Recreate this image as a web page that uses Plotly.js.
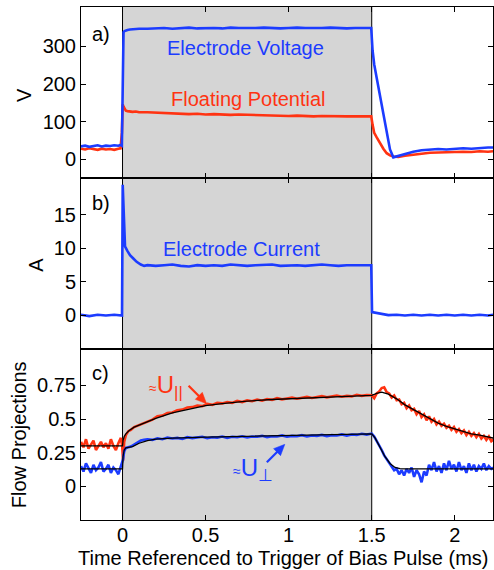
<!DOCTYPE html>
<html>
<head>
<meta charset="utf-8">
<script src="https://cdn.plot.ly/plotly-3.0.1.min.js"></script>
<style>html,body{margin:0;padding:0;background:#fff;}#chart{width:494px;height:570px;}</style>
</head>
<body>
<div id="chart"></div>
<script>
// ---- Panel a: voltages (V) ----
var tA = [-0.25,-0.225,-0.2,-0.175,-0.15,-0.125,-0.1,-0.075,-0.05,-0.025,-0.012,-0.004,
  0.001,0.006,0.012,0.02,0.03,0.045,0.06,0.08,0.1,
  0.15,0.2,0.25,0.3,0.35,0.4,0.45,0.5,0.55,0.6,0.65,0.7,0.75,0.8,0.85,0.9,0.95,1.0,1.05,1.1,1.15,1.2,1.25,1.3,1.35,1.4,1.45,
  1.497,1.505,1.515,1.53,1.55,1.57,1.59,1.61,1.63,1.66,
  1.7,1.75,1.8,1.85,1.9,1.95,2.0,2.05,2.1,2.15,2.2,2.23];
var electrodeVoltage = [34,36,33,35,37,34,36,35,37,36,38,36,
  300,338,341,343,344,345,346,346,347,
  347,348,349,347,348,350,348,349,349,348,350,349,348,349,350,349,348,349,350,349,348,349,350,349,348,349,349,
  349,290,252,216,168,120,72,26,5,9,
  15,20,24,25,27,26,28,29,28,30,31,31];
var floatingPotential = [28,26,29,27,25,28,26,27,25,28,29,70,
  146,140,133,129,128,127,126,127,125,
  125,124,123,122,121,120,121,119,120,119,118,119,118,117,116,117,116,115,116,115,114,115,114,115,114,114,115,
  114,92,70,58,42,28,16,10,7,6,
  9,12,15,17,18,19,18,20,19,21,20,21];

// ---- Panel b: electrode current (A) ----
var tB = [-0.25,-0.2,-0.15,-0.1,-0.05,-0.003,
  0.001,0.005,0.01,0.015,0.03,0.045,0.065,0.085,0.11,0.13,
  0.15,0.2,0.25,0.3,0.35,0.4,0.45,0.5,0.55,0.6,0.65,0.7,0.75,0.8,0.85,0.9,0.95,1.0,1.05,1.1,1.15,1.2,1.25,1.3,1.35,1.4,1.45,
  1.497,1.502,1.53,1.56,1.58,
  1.6,1.65,1.7,1.75,1.8,1.85,1.9,1.95,2.0,2.05,2.1,2.15,2.2,2.23];
var electrodeCurrent = [0.1,-0.1,0.1,0,0.1,0,
  19.5,16,12,10.3,9.6,9.0,8.5,8.0,7.6,7.4,
  7.5,7.4,7.5,7.6,7.4,7.3,7.5,7.4,7.5,7.4,7.6,7.5,7.4,7.5,7.5,7.6,7.4,7.5,7.5,7.4,7.5,7.6,7.5,7.4,7.5,7.5,7.5,
  7.5,0.5,0.35,0.25,0.15,
  0.05,0.1,0,0.1,0,0.1,0,0.1,0,0.1,0,0.1,0,0.1];

// ---- Panel c: flow projections ----
var tC = [-0.25,-0.235,-0.22,-0.205,-0.19,-0.175,-0.16,-0.145,-0.13,-0.115,-0.1,-0.085,-0.07,-0.055,-0.04,-0.025,-0.01,-0.002,
  0.003,0.01,0.02,0.035,0.05,0.07,0.09,0.11,0.13,
  0.15,0.18,0.21,0.24,0.27,0.3,0.33,0.36,0.39,0.42,0.45,0.48,0.51,0.54,0.57,0.6,0.63,0.66,0.69,0.72,0.75,0.78,0.81,0.84,0.87,0.9,0.93,0.96,0.99,1.02,1.05,1.08,1.11,1.14,1.17,1.2,1.23,1.26,1.29,1.32,1.35,1.38,1.41,1.44,1.47,1.5,
  1.515,1.53,1.545,1.56,1.575,1.59,1.605,1.62,1.635,1.65,1.665,1.68,1.695,1.71,1.725,1.74,1.755,1.77,1.785,1.8,1.815,1.83,1.845,1.86,1.875,1.89,1.905,1.92,1.935,1.95,1.965,1.98,1.995,2.01,2.025,2.04,2.055,2.07,2.085,2.1,2.115,2.13,2.145,2.16,2.175,2.19,2.205,2.22,2.235];
var uPar = [0.33,0.29,0.35,0.28,0.31,0.34,0.27,0.30,0.33,0.29,0.32,0.28,0.35,0.30,0.27,0.32,0.36,0.30,
  0.19,0.33,0.38,0.41,0.42,0.44,0.45,0.46,0.47,
  0.485,0.495,0.52,0.525,0.545,0.548,0.565,0.57,0.585,0.588,0.6,0.596,0.612,0.605,0.62,0.616,0.625,0.62,0.634,0.626,0.638,0.632,0.645,0.636,0.648,0.642,0.655,0.646,0.653,0.66,0.651,0.658,0.664,0.656,0.663,0.67,0.661,0.668,0.674,0.666,0.672,0.668,0.68,0.672,0.678,0.676,
  0.655,0.69,0.705,0.73,0.735,0.70,0.69,0.66,0.675,0.64,0.645,0.61,0.62,0.58,0.60,0.565,0.575,0.535,0.56,0.515,0.535,0.49,0.52,0.48,0.50,0.46,0.48,0.45,0.465,0.435,0.45,0.42,0.44,0.405,0.425,0.395,0.415,0.38,0.405,0.375,0.395,0.365,0.39,0.355,0.375,0.345,0.37,0.335,0.35];
var uPerp = [0.15,0.11,0.17,0.13,0.10,0.16,0.12,0.14,0.18,0.11,0.13,0.16,0.10,0.14,0.12,0.09,0.15,0.18,
  0.20,0.26,0.285,0.29,0.295,0.31,0.325,0.34,0.345,
  0.35,0.345,0.357,0.35,0.362,0.355,0.36,0.352,0.365,0.358,0.362,0.368,0.357,0.365,0.362,0.37,0.36,0.368,0.365,0.372,0.363,0.37,0.368,0.375,0.366,0.372,0.37,0.378,0.368,0.375,0.372,0.38,0.37,0.378,0.375,0.382,0.373,0.38,0.378,0.386,0.377,0.385,0.382,0.39,0.384,0.392,
  0.37,0.34,0.30,0.27,0.23,0.20,0.17,0.15,0.12,0.13,0.09,0.12,0.08,0.13,0.10,0.14,0.07,0.12,0.09,0.03,0.11,0.08,0.16,0.12,0.18,0.11,0.15,0.10,0.17,0.12,0.19,0.13,0.16,0.11,0.18,0.12,0.15,0.10,0.17,0.12,0.16,0.11,0.15,0.13,0.17,0.12,0.15,0.13,0.14];
var tFitPar = [-0.25,0,0.003,0.01,0.02,0.04,0.07,0.1,0.15,0.2,0.3,0.4,0.5,0.6,0.75,0.9,1.0,1.1,1.25,1.4,1.5,1.53,1.56,1.6,1.65,1.7,1.75,1.8,1.85,1.9,1.95,2.0,2.05,2.1,2.15,2.2,2.235];
var fitPar = [0.30,0.30,0.34,0.37,0.39,0.415,0.44,0.455,0.48,0.505,0.545,0.575,0.60,0.615,0.633,0.645,0.65,0.655,0.665,0.672,0.676,0.69,0.70,0.685,0.65,0.605,0.57,0.535,0.50,0.47,0.445,0.425,0.405,0.39,0.38,0.365,0.358];
var tFitPerp = [-0.25,0,0.003,0.01,0.02,0.04,0.06,0.1,0.15,0.2,0.3,0.5,0.75,1.0,1.25,1.5,1.52,1.55,1.58,1.61,1.64,1.67,1.7,1.8,2.0,2.235];
var fitPerp = [0.13,0.13,0.22,0.27,0.285,0.29,0.295,0.32,0.34,0.35,0.358,0.365,0.372,0.378,0.384,0.39,0.36,0.29,0.22,0.17,0.14,0.132,0.13,0.13,0.13,0.13];

// tick labels
var xTicks = [0,0.5,1,1.5,2], xTickText = ['0','0.5','1','1.5','2'];
var yTicksA = [0,100,200,300], yTicksB = [0,5,10,15];
var yTicksC = [0,0.25,0.5,0.75], yTickTextC = ['0','0.25','0.5','0.75'];

var BLUE = '#1c3cff', RED = '#ff3312', GRAY = '#d5d5d5';
var FONT = 'Liberation Sans, Arial, Helvetica, sans-serif';
var FS = 20;

var traces = [
  {x:tA, y:floatingPotential, xaxis:'x3', yaxis:'y3', mode:'lines', line:{color:RED, width:2.6}},
  {x:tA, y:electrodeVoltage, xaxis:'x3', yaxis:'y3', mode:'lines', line:{color:BLUE, width:2.6}},
  {x:tB, y:electrodeCurrent, xaxis:'x2', yaxis:'y2', mode:'lines', line:{color:BLUE, width:2.6}},
  {x:tC, y:uPar, xaxis:'x', yaxis:'y', mode:'lines', line:{color:RED, width:2.6}},
  {x:tC, y:uPerp, xaxis:'x', yaxis:'y', mode:'lines', line:{color:BLUE, width:2.6}},
  {x:tFitPar, y:fitPar, xaxis:'x', yaxis:'y', mode:'lines', line:{color:'black', width:1.3}},
  {x:tFitPerp, y:fitPerp, xaxis:'x', yaxis:'y', mode:'lines', line:{color:'black', width:1.3}}
];

function xax(anchor, labels) {
  return {anchor:anchor, domain:[0,1], range:[-0.25,2.23], tickvals:xTicks, ticktext:xTickText,
    ticks:'inside', ticklen:5, tickwidth:1, tickcolor:'black', mirror:'ticks', showline:true,
    linecolor:'black', linewidth:1, showgrid:false, zeroline:false, showticklabels:labels,
    tickfont:{family:FONT, size:FS, color:'black'}};
}
function yax(domain, range, vals, text) {
  var o = {anchor:'x', domain:domain, range:range, tickvals:vals,
    ticks:'inside', ticklen:5, tickwidth:1, tickcolor:'black', mirror:'ticks', showline:true,
    linecolor:'black', linewidth:1, showgrid:false, zeroline:false,
    tickfont:{family:FONT, size:FS, color:'black'}};
  if (text) o.ticktext = text;
  return o;
}

var xa = xax('y', true);
xa.ticklabelstandoff = -3;
var xa2 = xax('y2', false); xa2.matches = 'x';
var xa3 = xax('y3', false); xa3.matches = 'x';
var ya = yax([0,1/3], [-0.25,1.02], yTicksC, yTickTextC);
var ya2 = yax([1/3,2/3], [-5,20.5], yTicksB); ya2.anchor = 'x2';
var ya3 = yax([2/3,1], [-50,405], yTicksA); ya3.anchor = 'x3';

function pan(x, y, t) {
  return {xref:'paper', yref:'paper', x:x, y:y, text:t, showarrow:false, xanchor:'center', yanchor:'middle',
    font:{family:FONT, size:FS, color:'black'}};
}
function ytitle(x, y, t) {
  var a = pan(x, y, t); a.textangle = -90; return a;
}

var annotations = [
  pan(0.0485, 0.947, 'a)'), pan(0.0485, 0.617, 'b)'), pan(0.0485, 0.2865, 'c)'),
  ytitle(-0.138, 0.8285, 'V'), ytitle(-0.11, 0.497, 'A'), ytitle(-0.150, 0.1657, 'Flow Projections'),
  pan(0.4927, -0.075, 'Time Referenced to Trigger of Bias Pulse (ms)'),
  {xref:'x3', yref:'y3', x:0.739, y:297, text:'Electrode Voltage', showarrow:false, font:{family:FONT, size:FS, color:BLUE}},
  {xref:'x3', yref:'y3', x:0.758, y:160, text:'Floating Potential', showarrow:false, font:{family:FONT, size:FS, color:RED}},
  {xref:'x2', yref:'y2', x:0.719, y:9.9, text:'Electrode Current', showarrow:false, font:{family:FONT, size:FS, color:BLUE}},
  {xref:'x', yref:'y', x:0.148, y:0.745, xanchor:'left', yanchor:'middle', showarrow:false,
    text:'<span style="font-size:14px">≈</span>U<sub>||</sub>', font:{family:FONT, size:24, color:RED}},
  {xref:'x', yref:'y', x:0.655, y:0.125, xanchor:'left', yanchor:'middle', showarrow:false,
    text:'<span style="font-size:14px">≈</span>U<sub>⊥</sub>', font:{family:FONT, size:24, color:BLUE}}
];

// arrows drawn as shapes anchored at the tip (pixel offsets)
var tipPar = [0.506, 0.614], tipPerp = [0.977, 0.312];
var shapes = [
  {type:'rect', xref:'x', yref:'paper', x0:0, x1:1.5, y0:0, y1:1, fillcolor:GRAY, line:{width:0}, layer:'below'},
  {type:'line', xref:'x', yref:'paper', x0:0, x1:0, y0:0, y1:1, line:{color:'black', width:1}, layer:'below'},
  {type:'line', xref:'x', yref:'paper', x0:1.5, x1:1.5, y0:0, y1:1, line:{color:'black', width:1}, layer:'below'},
  {type:'line', xref:'x', yref:'y', xsizemode:'pixel', ysizemode:'pixel', xanchor:tipPar[0], yanchor:tipPar[1],
    x0:-18, y0:18, x1:-6, y1:6, line:{color:RED, width:2.2}},
  {type:'path', xref:'x', yref:'y', xsizemode:'pixel', ysizemode:'pixel', xanchor:tipPar[0], yanchor:tipPar[1],
    path:'M0,0 L-4.3,11.3 L-11.3,4.3 Z', fillcolor:RED, line:{color:RED, width:0.5}},
  {type:'line', xref:'x', yref:'y', xsizemode:'pixel', ysizemode:'pixel', xanchor:tipPerp[0], yanchor:tipPerp[1],
    x0:-18, y0:-18, x1:-6, y1:-6, line:{color:BLUE, width:2.2}},
  {type:'path', xref:'x', yref:'y', xsizemode:'pixel', ysizemode:'pixel', xanchor:tipPerp[0], yanchor:tipPerp[1],
    path:'M0,0 L-11.3,-4.3 L-4.3,-11.3 Z', fillcolor:BLUE, line:{color:BLUE, width:0.5}}
];

var layout = {
  width:494, height:570, margin:{l:81, r:1, t:7, b:50, pad:0},
  paper_bgcolor:'white', plot_bgcolor:'white', showlegend:false,
  font:{family:FONT, size:FS, color:'black'},
  xaxis:xa, xaxis2:xa2, xaxis3:xa3, yaxis:ya, yaxis2:ya2, yaxis3:ya3,
  annotations:annotations, shapes:shapes
};

Plotly.newPlot('chart', traces, layout, {displayModeBar:false, staticPlot:true});
</script>
</body>
</html>
